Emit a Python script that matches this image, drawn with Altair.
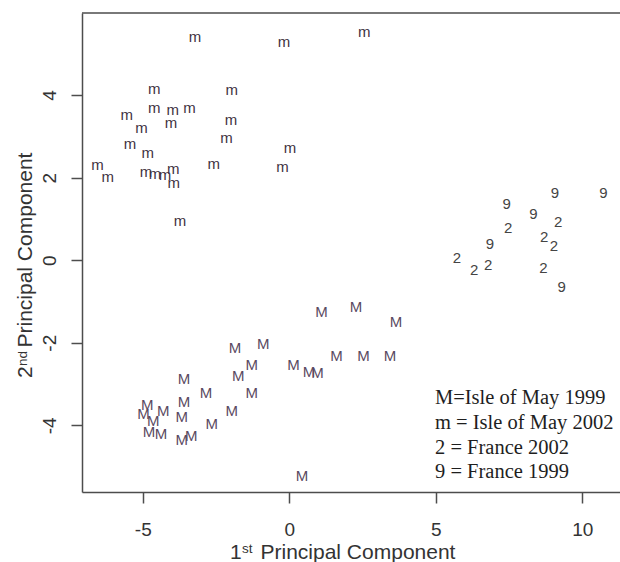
import altair as alt
import pandas as pd

# ---- data ----
# Isle of May 2002 ("m")
m_x = [-3.22, -0.18, 2.56, -4.61, -1.96, -5.55, -4.61, -3.98, -3.41, -4.04, -1.99, -5.04, -2.14,
       -5.44, -4.83, 0.02, -6.55, -6.20, -4.89, -4.58, -4.24, -3.96, -3.94, -2.58, -0.23, -3.73]
m_y = [5.41, 5.28, 5.52, 4.15, 4.12, 3.52, 3.68, 3.65, 3.68, 3.33, 3.39, 3.19, 2.95,
       2.81, 2.60, 2.71, 2.30, 2.02, 2.14, 2.08, 2.06, 2.22, 1.87, 2.33, 2.25, 0.95]
# Isle of May 1999 ("M")
M_x = [1.10, 2.28, 3.64, -1.85, -0.89, -1.28, -1.74, 0.14, 0.67, 0.96, 1.61, 2.53, 3.44, -3.59, -2.84,
       -1.28, -3.59, -1.96, -4.85, -4.98, -4.30, -4.64, -3.67, -2.65, -4.79, -4.38, -3.67, -3.35, 0.43]
M_y = [-1.25, -1.13, -1.51, -2.12, -2.02, -2.55, -2.81, -2.55, -2.71, -2.73, -2.32, -2.33, -2.33, -2.89, -3.22,
       -3.22, -3.44, -3.65, -3.52, -3.72, -3.65, -3.90, -3.81, -3.96, -4.16, -4.22, -4.35, -4.27, -5.24]
# France 1999 ("9")
f9_x = [7.42, 9.07, 10.72, 8.33, 6.85, 9.30]
f9_y = [1.36, 1.62, 1.62, 1.13, 0.40, -0.65]
# France 2002 ("2")
f2_x = [7.47, 9.18, 8.70, 9.03, 5.72, 6.31, 6.79, 8.67]
f2_y = [0.78, 0.93, 0.56, 0.34, 0.05, -0.24, -0.12, -0.20]

legend_lines = ["M=Isle of May 1999", "m = Isle of May 2002", "2 = France 2002", "9 = France 1999"]
x_ticks = [-5, 0, 5, 10]
y_ticks = [-4, -2, 0, 2, 4]
x_title = ["1", "st", "Principal Component"]
y_title = ["2", "nd", "Principal Component"]

groups = ["m", "M", "9", "2"]
colors = ["#3f3342", "#5a4a62", "#444444", "#444444"]

rows = []
for lab, xs, ys in [("m", m_x, m_y), ("M", M_x, M_y), ("9", f9_x, f9_y), ("2", f2_x, f2_y)]:
    for a, b in zip(xs, ys):
        rows.append({"x": a, "y": b, "label": lab})
df = pd.DataFrame(rows)

W, H = 538, 479
AX = "#4d4d4d"
SANS = "Liberation Sans"
HYPHEN_LABEL = "datum.value < 0 ? '-' + abs(datum.value) : '' + datum.value"

xscale = alt.Scale(domain=[-7.075, 11.287], nice=False, zero=False)
yscale = alt.Scale(domain=[-5.617, 5.988], nice=False, zero=False)

points = alt.Chart(df).mark_text(font=SANS, fontSize=15, align="center", baseline="middle").encode(
    x=alt.X("x:Q", scale=xscale, axis=alt.Axis(
        values=x_ticks, title=None, grid=False, domain=True, domainColor=AX, domainWidth=1.5,
        ticks=True, tickSize=11, tickColor=AX, tickWidth=1.5, labelExpr=HYPHEN_LABEL,
        labelFont=SANS, labelFontSize=19, labelColor="#333333", labelBaseline="middle",
        labelPadding=26, labelFlush=False)),
    y=alt.Y("y:Q", scale=yscale, axis=alt.Axis(
        values=y_ticks, title=None, grid=False, domain=True, domainColor=AX, domainWidth=1.5,
        ticks=True, tickSize=11, tickColor=AX, tickWidth=1.5, labelExpr=HYPHEN_LABEL,
        labelFont=SANS, labelFontSize=19, labelColor="#333333", labelAngle=270,
        labelAlign="center", labelBaseline="middle", labelPadding=22, labelFlush=False)),
    text="label:N",
    color=alt.Color("label:N", scale=alt.Scale(domain=groups, range=colors), legend=None),
)

one = pd.DataFrame({"a": [0]})
top_rule = alt.Chart(one).mark_rule(color=AX, strokeWidth=1.5).encode(
    x=alt.value(0), x2=alt.value(W), y=alt.value(0))

layers = [top_rule, points]

# legend text block (serif)
for i, line in enumerate(legend_lines):
    layers.append(
        alt.Chart(pd.DataFrame({"t": [line]})).mark_text(
            font="Liberation Serif", fontSize=20.5, align="left", baseline="alphabetic", color="#1e1e1e"
        ).encode(x=alt.value(353), y=alt.value(391 + 24.8 * i), text="t:N")
    )

# x axis title with superscript
xt_pos = [(148, 545.5, 21), (160, 540, 13.5), (178.5, 545.5, 21)]
for txt, (px, py, fs) in zip(x_title, xt_pos):
    layers.append(
        alt.Chart(pd.DataFrame({"t": [txt]})).mark_text(
            font=SANS, fontSize=fs, align="left", baseline="alphabetic", color="#333333"
        ).encode(x=alt.value(px), y=alt.value(py), text="t:N")
    )

# y axis title with superscript (rotated)
yt_pos = [(-50, 365, 21), (-55.5, 353, 13.5), (-50, 334.5, 21)]
for txt, (px, py, fs) in zip(y_title, yt_pos):
    layers.append(
        alt.Chart(pd.DataFrame({"t": [txt]})).mark_text(
            font=SANS, fontSize=fs, align="left", baseline="alphabetic", angle=270, color="#333333"
        ).encode(x=alt.value(px), y=alt.value(py), text="t:N")
    )

chart = alt.layer(*layers).properties(
    width=W, height=H,
    autosize=alt.AutoSizeParams(type="none"),
    padding={"left": 82, "top": 13, "right": 0, "bottom": 70},
    background="white",
).configure_view(stroke=None)

chart.save("out.html", embed_options={"renderer": "svg", "actions": False})
